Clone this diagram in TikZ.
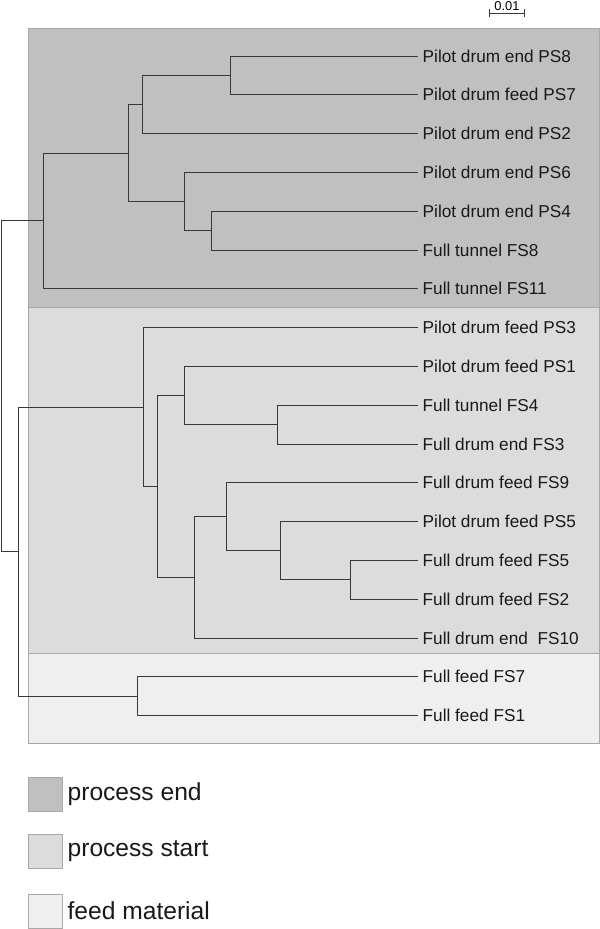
\documentclass[tikz,border=0pt]{standalone}
\usepackage{fontspec}
\setmainfont{Liberation Sans}
\usetikzlibrary{positioning}
\definecolor{ProcEnd}{HTML}{C0C0C0}
\definecolor{ProcStart}{HTML}{DCDCDC}
\definecolor{FeedMat}{HTML}{EFEFEF}
\definecolor{Frame}{HTML}{A8A8A8}
\definecolor{Ink}{HTML}{383838}

\begin{document}
\begin{tikzpicture}[
        x=0.03cm, y=-0.03cm,
        region/.style={draw=Frame, line width=0.7pt},
        leaf/.style={anchor=west, inner xsep=3.8pt, inner ysep=0pt, font=\fontsize{14.7}{17}\selectfont, text=black!90},
        branch/.style={draw=Ink, line width=0.8pt},
        swatch/.style={draw=Frame, line width=0.7pt, minimum width=34*0.03cm, minimum height=34*0.03cm, inner sep=0pt},
        legtext/.style={anchor=west, inner sep=0pt, font=\fontsize{21}{24}\selectfont, text=black!90}
      ]
        \useasboundingbox (0,0) rectangle (600,929);

        % shaded groups
        \path[region, fill=ProcEnd] (28,28) rectangle (599,307);
        \path[region, fill=ProcStart] (28,307) rectangle (599,653);
        \path[region, fill=FeedMat] (28,653) rectangle (599,743);

        % scale bar
        \coordinate (sbl) at (489,13.5);
        \coordinate (sbr) at (524,13.5);
        \draw[branch, line width=0.6pt] (sbl) -- (sbr);
        \draw[branch, line width=0.6pt] ([yshift=0.12cm]sbl) -- ([yshift=-0.12cm]sbl);
        \draw[branch, line width=0.6pt] ([yshift=0.12cm]sbr) -- ([yshift=-0.12cm]sbr);
        \node[inner sep=0pt, font=\fontsize{11}{12}\selectfont] (sblab) at (507,6.5) {0.01};

        % leaves
        \foreach \nm/\txt [count=\i from 0] in {
            ps8/Pilot drum end PS8, ps7/Pilot drum feed PS7, ps2/Pilot drum end PS2,
            ps6/Pilot drum end PS6, ps4/Pilot drum end PS4, fs8/Full tunnel FS8,
            fs11/Full tunnel FS11, ps3/Pilot drum feed PS3, ps1/Pilot drum feed PS1,
            fs4/Full tunnel FS4, fs3/Full drum end FS3, fs9/Full drum feed FS9,
            ps5/Pilot drum feed PS5, fs5/Full drum feed FS5, fs2/Full drum feed FS2,
            fs10/Full drum end~ FS10, fs7/Full feed FS7, fs1/Full feed FS1}
          \node[leaf] (\nm) at (418,{56+38.8*\i}) {\txt};

        % internal nodes
        \coordinate (a1) at (230,75.4);
        \coordinate (a2) at (142,104.5);
        \coordinate (a3) at (211,230.6);
        \coordinate (a4) at (184,201.5);
        \coordinate (a5) at (128,153);
        \coordinate (a6) at (43,220.9);
        \coordinate (b1) at (277,424.6);
        \coordinate (b2) at (184,395.5);
        \coordinate (b3) at (350,579.8);
        \coordinate (b4) at (280,550.7);
        \coordinate (b5) at (226,516.75);
        \coordinate (b6) at (194,577.4);
        \coordinate (b7) at (157,486.4);
        \coordinate (b8) at (143,407);
        \coordinate (c1) at (137,696.2);
        \coordinate (c2) at (18,551.6);
        \coordinate (root) at (1,386);

        % branches
        \draw[branch] (a1) |- (ps8.west);
        \draw[branch] (a1) |- (ps7.west);
        \draw[branch] (a2) |- (a1);
        \draw[branch] (a2) |- (ps2.west);
        \draw[branch] (a3) |- (ps4.west);
        \draw[branch] (a3) |- (fs8.west);
        \draw[branch] (a4) |- (ps6.west);
        \draw[branch] (a4) |- (a3);
        \draw[branch] (a5) |- (a2);
        \draw[branch] (a5) |- (a4);
        \draw[branch] (a6) |- (a5);
        \draw[branch] (a6) |- (fs11.west);

        \draw[branch] (b1) |- (fs4.west);
        \draw[branch] (b1) |- (fs3.west);
        \draw[branch] (b2) |- (ps1.west);
        \draw[branch] (b2) |- (b1);
        \draw[branch] (b3) |- (fs5.west);
        \draw[branch] (b3) |- (fs2.west);
        \draw[branch] (b4) |- (ps5.west);
        \draw[branch] (b4) |- (b3);
        \draw[branch] (b5) |- (fs9.west);
        \draw[branch] (b5) |- (b4);
        \draw[branch] (b6) |- (b5);
        \draw[branch] (b6) |- (fs10.west);
        \draw[branch] (b7) |- (b2);
        \draw[branch] (b7) |- (b6);
        \draw[branch] (b8) |- (ps3.west);
        \draw[branch] (b8) |- (b7);

        \draw[branch] (c1) |- (fs7.west);
        \draw[branch] (c1) |- (fs1.west);
        \draw[branch] (c2) |- (b8);
        \draw[branch] (c2) |- (c1);
        \draw[branch] (root) |- (a6);
        \draw[branch] (root) |- (c2);

        % legend
        \node[swatch, fill=ProcEnd] (kend) at (45,794.5) {};
        \node[swatch, fill=ProcStart] (kstart) at (45,851) {};
        \node[swatch, fill=FeedMat] (kfeed) at (45,911) {};
        \node[legtext, right=5*0.03cm of kend] (tend) {process end};
        \node[legtext, right=5*0.03cm of kstart] (tstart) {process start};
        \node[legtext, right=5*0.03cm of kfeed] (tfeed) {feed material};
      \end{tikzpicture}
\end{document}
